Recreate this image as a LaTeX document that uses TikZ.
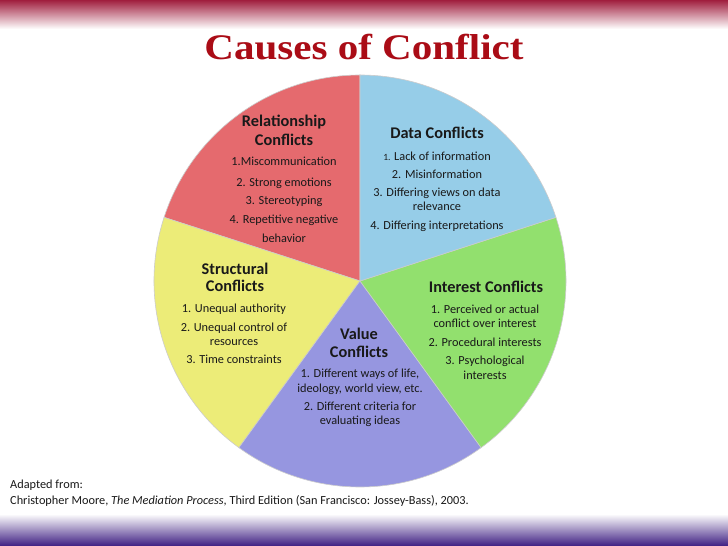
\documentclass[tikz,border=0pt]{standalone}
\usepackage{fontspec}
\setmainfont{Carlito}
\newfontfamily\titlefont[FakeStretch=1.14]{Liberation Serif}
\definecolor{titlered}{RGB}{170,12,22}
\definecolor{bandred}{RGB}{160,30,62}
\definecolor{bandpurple}{RGB}{62,30,130}
\definecolor{cred}{RGB}{229,106,110}
\definecolor{cblue}{RGB}{150,205,232}
\definecolor{cyellow}{RGB}{236,236,120}
\definecolor{cgreen}{RGB}{146,224,110}
\definecolor{cpurple}{RGB}{150,150,224}
\definecolor{txt}{RGB}{25,25,25}
\tikzset{
  slice/.style={draw=white!80!black, line width=0.6pt},
  hd/.style={font=\fontsize{16.3}{18}\selectfont\bfseries, text=txt, text height=11.5pt, text depth=3.5pt, inner sep=0pt, yshift=-1.5pt},
  it/.style={font=\fontsize{12.3}{14}\selectfont, text=txt, text height=9pt, text depth=3pt, inner sep=0pt, yshift=-1.5pt},
  foot/.style={font=\fontsize{12.3}{14}\selectfont, text=txt, anchor=west, text height=9pt, text depth=3pt, inner sep=0pt, yshift=-2pt}
}
\begin{document}
\begin{tikzpicture}[x=1pt,y=1pt]
\useasboundingbox (0,0) rectangle (728,546);
\fill[white] (0,0) rectangle (728,546);
\shade[top color=bandred, bottom color=white] (0,517) rectangle (728,546);
\shade[top color=white, bottom color=bandpurple] (0,0) rectangle (728,32);
\begin{scope}[yshift=546pt, y=-1pt]
  \coordinate (c) at (360,281);
  \filldraw[slice, fill=cred] (c) -- ++(-90:206) arc[start angle=-90, end angle=-162, radius=206] -- cycle;
  \filldraw[slice, fill=cyellow] (c) -- ++(-162:206) arc[start angle=-162, end angle=-234, radius=206] -- cycle;
  \filldraw[slice, fill=cpurple] (c) -- ++(-234:206) arc[start angle=-234, end angle=-306, radius=206] -- cycle;
  \filldraw[slice, fill=cgreen] (c) -- ++(-306:206) arc[start angle=-306, end angle=-378, radius=206] -- cycle;
  \filldraw[slice, fill=cblue] (c) -- ++(-18:206) arc[start angle=-18, end angle=-90, radius=206] -- cycle;

  \node[font=\titlefont\bfseries\fontsize{36}{36}\selectfont, text=titlered, anchor=base, inner sep=0pt] (title) at (364,60) {Causes of Conflict};

  % Relationship
  \node[hd] (rh1) at (284,121) {Relationship};
  \node[hd] (rh2) at (284,140) {Conflicts};
  \node[it] (r1) at (284,161) {1.Miscommunication};
  \node[it] (r2) at (284,182) {2. Strong emotions};
  \node[it] (r3) at (284,200) {3. Stereotyping};
  \node[it] (r4) at (284,219) {4. Repetitive negative};
  \node[it] (r5) at (284,238) {behavior};

  % Data
  \node[hd] (dh) at (437,133) {Data Conflicts};
  \node[it] (d1) at (437,156) {{\fontsize{9.5}{9.5}\selectfont 1.} Lack of information};
  \node[it] (d2) at (437,174) {2. Misinformation};
  \node[it] (d3) at (437,192) {3. Differing views on data};
  \node[it] (d4) at (437,206) {relevance};
  \node[it] (d5) at (437,225) {4. Differing interpretations};

  % Structural
  \node[hd] (sh1) at (235,269) {Structural};
  \node[hd] (sh2) at (235,286) {Conflicts};
  \node[it] (s1) at (234,308) {1. Unequal authority};
  \node[it] (s2) at (234,327) {2. Unequal control of};
  \node[it] (s3) at (234,341) {resources};
  \node[it] (s4) at (234,359) {3. Time constraints};

  % Value
  \node[hd] (vh1) at (359,334) {Value};
  \node[hd] (vh2) at (359,352) {Conflicts};
  \node[it] (v1) at (360,373) {1. Different ways of life,};
  \node[it] (v2) at (360,388) {ideology, world view, etc.};
  \node[it] (v3) at (360,406) {2. Different criteria for};
  \node[it] (v4) at (360,420) {evaluating ideas};

  % Interest
  \node[hd] (ih) at (486,287) {Interest Conflicts};
  \node[it] (i1) at (485,309) {1. Perceived or actual};
  \node[it] (i2) at (485,323) {conflict over interest};
  \node[it] (i3) at (485,342) {2. Procedural interests};
  \node[it] (i4) at (485,360) {3. Psychological};
  \node[it] (i5) at (485,375) {interests};

  % Footer
  \node[foot] (f1) at (10,484) {Adapted from:};
  \node[foot] (f2) at (10,500) {Christopher Moore, \textit{The Mediation Process}, Third Edition (San Francisco: Jossey-Bass), 2003.};
\end{scope}
\end{tikzpicture}
\end{document}
